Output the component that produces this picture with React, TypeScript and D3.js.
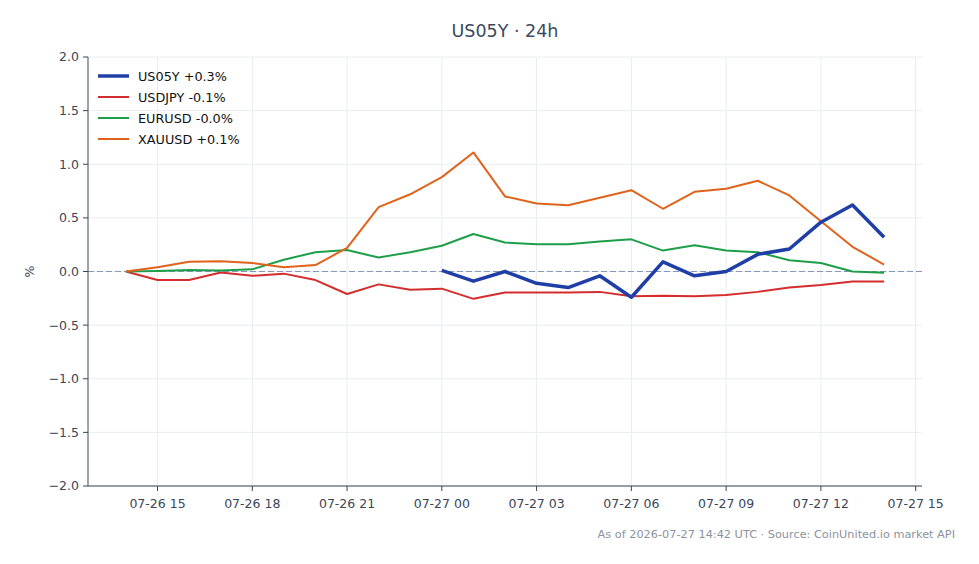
import React, { useEffect } from "react";
import * as d3 from "d3";

// hourly samples, 07-26 14:00 UTC through 07-27 14:00 UTC
const startHour = Date.UTC(2026, 6, 26, 14);
const hours = d3.range(25).map((i) => new Date(startHour + i * 3600e3));

// % change from the first sample
const us05y: (number | null)[] = [
  null, null, null, null, null, null, null, null, null, null,
  0.01, -0.09, 0.0, -0.11, -0.15, -0.04, -0.24, 0.09, -0.04, 0.0, 0.16, 0.21, 0.46, 0.62, 0.32,
];
const usdjpy = [
  0, -0.08, -0.08, -0.01, -0.04, -0.02, -0.08, -0.21, -0.12, -0.17, -0.16, -0.255, -0.195,
  -0.195, -0.195, -0.19, -0.23, -0.225, -0.23, -0.22, -0.19, -0.15, -0.125, -0.093, -0.093,
];
const eurusd = [
  0, 0.005, 0.015, 0.01, 0.02, 0.11, 0.18, 0.2, 0.13, 0.18, 0.24, 0.35, 0.27,
  0.255, 0.255, 0.28, 0.3, 0.195, 0.245, 0.195, 0.18, 0.105, 0.08, 0.0, -0.012,
];
const xauusd = [
  0, 0.04, 0.09, 0.095, 0.08, 0.04, 0.06, 0.22, 0.6, 0.72, 0.88, 1.11, 0.7,
  0.634, 0.618, 0.687, 0.758, 0.585, 0.743, 0.771, 0.846, 0.709, 0.469, 0.23, 0.065,
];

const seriesNames = ["US05Y", "USDJPY", "EURUSD", "XAUUSD"];
const seriesValues = [us05y, usdjpy, eurusd, xauusd];
const seriesColors = ["#1f3fa6", "#d42d2d", "#1f9e4a", "#e0631c"];
const seriesWidths = [3.5, 2, 2, 2];

const yTicks = [-2, -1.5, -1, -0.5, 0, 0.5, 1, 1.5, 2];

const W = 979;
const H = 564;
const m = { left: 88, right: 922, top: 57, bottom: 486 };

const fmtPct = (v: number) => `${v >= 0 && !Object.is(v, -0) ? "+" : "-"}${Math.abs(v).toFixed(1)}%`;

export default function App() {
  useEffect(() => {
    document.body.style.margin = "0";
  }, []);

  const pad = 1.2 * 3600e3;
  const x = d3
    .scaleUtc()
    .domain([hours[0].getTime() - pad, hours[hours.length - 1].getTime() + pad])
    .range([m.left, m.right]);
  const y = d3.scaleLinear().domain([-2, 2]).range([m.bottom, m.top]);

  const xTicks = x.ticks(d3.utcHour.every(3)!);
  const fmtX = d3.utcFormat("%m-%d %H");
  const fmtY = (v: number) => (v < 0 ? "\u2212" : "") + Math.abs(v).toFixed(1);

  const line = d3
    .line<number | null>()
    .defined((d) => d !== null)
    .x((_, i) => x(hours[i]))
    .y((d) => y(d as number));

  const font = "DejaVu Sans, sans-serif";
  const ink = "#3b4658";

  // draw order: the fx/commodity lines first, the headline yield on top
  const order = [1, 2, 3, 0];

  return (
    <svg width={W} height={H} style={{ display: "block", background: "#fff" }} fontFamily={font}>
      <text x={505} y={37} textAnchor="middle" fontSize={17.5} fill="#3d4a5d">
        US05Y · 24h
      </text>

      {/* grid */}
      <g stroke="#e9ecf0" strokeWidth={1}>
        {xTicks.map((t, i) => (
          <line key={"gx" + i} x1={x(t)} x2={x(t)} y1={m.top} y2={m.bottom} />
        ))}
        {yTicks.map((t, i) => (
          <line key={"gy" + i} x1={m.left} x2={m.right} y1={y(t)} y2={y(t)} />
        ))}
      </g>

      <line x1={m.left} x2={m.right} y1={y(0)} y2={y(0)} stroke="#8797b8" strokeWidth={1} strokeDasharray="6,3" />

      {order.map((k) => (
        <path
          key={seriesNames[k]}
          d={line(seriesValues[k]) || ""}
          fill="none"
          stroke={seriesColors[k]}
          strokeWidth={seriesWidths[k]}
          strokeLinejoin="round"
        />
      ))}

      {/* spines and ticks */}
      <g stroke={ink} strokeWidth={1}>
        <line x1={m.left} x2={m.left} y1={m.top} y2={m.bottom} />
        <line x1={m.left} x2={m.right} y1={m.bottom} y2={m.bottom} />
        {yTicks.map((t, i) => (
          <line key={"ty" + i} x1={m.left - 5} x2={m.left} y1={y(t)} y2={y(t)} />
        ))}
        {xTicks.map((t, i) => (
          <line key={"tx" + i} x1={x(t)} x2={x(t)} y1={m.bottom} y2={m.bottom + 5} />
        ))}
      </g>
      <g fontSize={12.5} fill={ink}>
        {yTicks.map((t, i) => (
          <text key={"ly" + i} x={m.left - 9} y={y(t)} dy="0.35em" textAnchor="end">
            {fmtY(t)}
          </text>
        ))}
        {xTicks.map((t, i) => (
          <text key={"lx" + i} x={x(t)} y={m.bottom + 22} textAnchor="middle">
            {fmtX(t)}
          </text>
        ))}
      </g>
      <text
        transform={`translate(34,${y(0)}) rotate(-90)`}
        textAnchor="middle"
        fontSize={12.5}
        fill={ink}
      >
        %
      </text>

      {/* legend */}
      <g fontSize={12.8} fill="#111">
        {seriesNames.map((name, k) => {
          const vals = seriesValues[k].filter((v) => v !== null) as number[];
          const last = vals[vals.length - 1];
          const ly = 76 + k * 21;
          return (
            <g key={"lg" + k}>
              <line x1={98} x2={129} y1={ly} y2={ly} stroke={seriesColors[k]} strokeWidth={seriesWidths[k]} />
              <text x={138} y={ly} dy="0.36em">
                {name} {fmtPct(last)}
              </text>
            </g>
          );
        })}
      </g>

      <text x={955} y={538} textAnchor="end" fontSize={11.3} fill="#8a93a1">
        As of 2026-07-27 14:42 UTC · Source: CoinUnited.io market API
      </text>
    </svg>
  );
}
